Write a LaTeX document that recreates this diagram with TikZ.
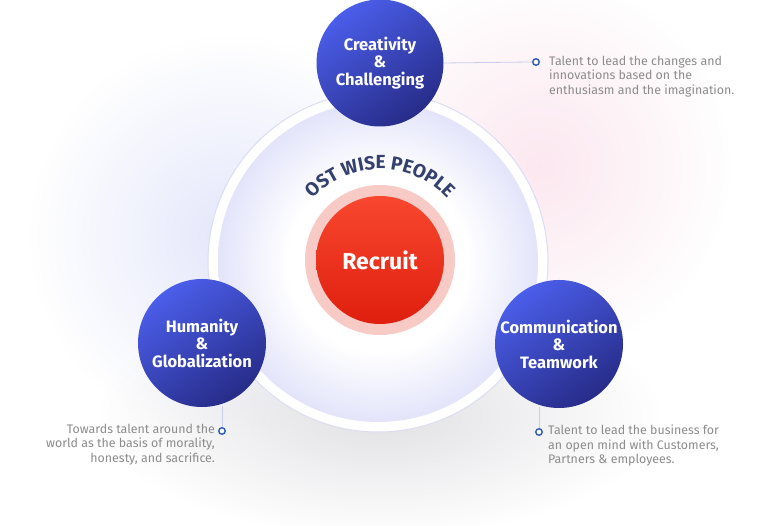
\documentclass[tikz,border=0pt]{standalone}
\usepackage{fontspec}
\setmainfont{Fira Sans}
\usetikzlibrary{fadings,decorations.text}
\definecolor{lav}{HTML}{E3E4FA}
\definecolor{ringline}{HTML}{DCDDF3}
\definecolor{bluelight}{HTML}{4B5EEA}
\definecolor{bluedark}{HTML}{272C88}
\definecolor{redlight}{HTML}{F8482F}
\definecolor{reddark}{HTML}{DF1E0E}
\definecolor{pinkring}{HTML}{F8CAC6}
\definecolor{navy}{HTML}{34406E}
\definecolor{greytext}{HTML}{8C8C8C}
\definecolor{conn}{HTML}{C9CCEB}
\definecolor{dotblue}{HTML}{2C5BB5}
\definecolor{glowblue}{HTML}{DDE1FA}
\definecolor{glowpink}{HTML}{FBE2EC}
\definecolor{glowgrey}{HTML}{DCDCE0}
\pgfdeclareradialshading{innerdisc}{\pgfpoint{0bp}{0bp}}{color(0bp)=(white); color(14bp)=(white); color(25bp)=(lav); color(50bp)=(lav)}
\tikzfading[name=softglow, inner color=transparent!0, outer color=transparent!100]
\tikzset{
  topic/.style={circle, minimum size=127pt, inner sep=0pt, align=center, text=white,
    font=\fontsize{16.5}{17.5}\selectfont\bfseries},
  topicfill/.style={shading=axis, top color=bluelight, bottom color=bluedark, shading angle=35},
  desc/.style={text=greytext, font=\fontsize{12.4}{14.5}\selectfont, inner sep=0pt},
  dotmark/.style={circle, draw=dotblue, line width=1.4pt, fill=white, minimum size=6.5pt, inner sep=0pt},
  connector/.style={draw=conn, line width=0.8pt},
  glow/.style={path fading=softglow}
}
\begin{document}
\begin{tikzpicture}[x=1pt,y=1pt]
\useasboundingbox (0,0) rectangle (761,526);
\fill[white] (0,0) rectangle (761,526);
% soft glows
\fill[glow, fill=glowblue, fill opacity=0.8] (230,290) circle (200);
\fill[glow, fill=glowpink, fill opacity=0.8] (540,360) circle (190);
\fill[glow, fill=glowgrey, fill opacity=0.85] (380,110) ellipse (280 and 120);
% big circle
\fill[white, draw=ringline, line width=1pt] (378,264) circle (170);
\shade[shading=innerdisc] (378,264) circle (160);
% red circle
\fill[pinkring] (380,266) circle (75);
\shade[top color=redlight, bottom color=reddark] (380,266) circle (64);
\node (recruit) at (380,266) [text=white, font=\fontsize{23}{26}\selectfont\bfseries] {Recruit};
% curved title
\path[decorate, decoration={text along path, text align=center,
  text={|\fontsize{19}{22}\selectfont\bfseries\color{navy}|OST WISE PEOPLE}}]
  (380,266) ++(155:91) arc[start angle=155, end angle=25, radius=91];
% topic circles
\shade[topicfill] (380,463) circle (63.5);
\node[topic] (crea) at (380,463) {Creativity\\\&\\Challenging};
\shade[topicfill] (202,183) circle (64);
\node[topic] (huma) at (202,183) {Humanity\\\&\\Globalization};
\shade[topicfill] (559,182) circle (64);
\node[topic] (comm) at (559,182) {Communication\\\&\\Teamwork};
% dots and connectors
\node[dotmark] (d1) at (536,464) {};
\node[dotmark] (d2) at (222,95) {};
\node[dotmark] (d3) at (539,94) {};
\coordinate (h1) at (222,120);
\coordinate (c1) at (539,119);
\draw[connector] (crea.east) -- (d1.west);
\draw[connector] (h1) -- (d2.north);
\draw[connector] (c1) -- (d3.north);
% descriptions
\node[desc, anchor=north west, align=left] (t1) at (549,470)
 {Talent to lead the changes and\\innovations based on the\\enthusiasm and the imagination.};
\node[desc, anchor=north east, align=right] (t2) at (215,102)
 {Towards talent around the\\world as the basis of morality,\\honesty, and sacrifice.};
\node[desc, anchor=north west, align=left] (t3) at (548,101)
 {Talent to lead the business for\\an open mind with Customers,\\Partners \& employees.};
\end{tikzpicture}
\end{document}
